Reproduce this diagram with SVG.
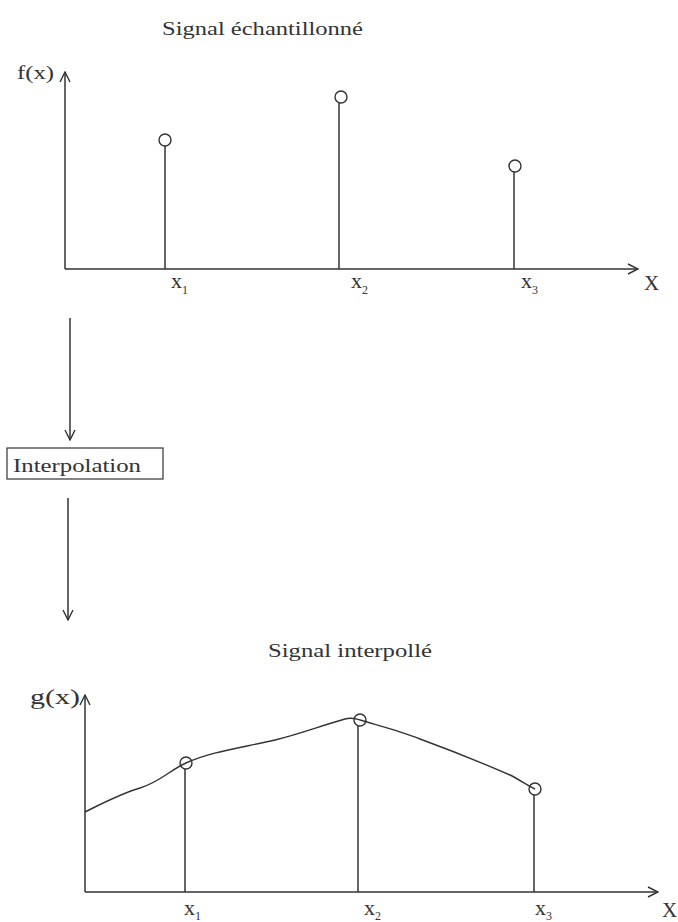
<svg xmlns="http://www.w3.org/2000/svg" width="678" height="922" viewBox="0 0 678 922">
<style>
.ln{stroke:#333;stroke-width:1.5;fill:none}
.cv{stroke:#333;stroke-width:1.4;fill:none}
.pt{stroke:#333;stroke-width:1.4;fill:none}
.t{font-family:"Liberation Serif","Times New Roman",serif;fill:#333}
.xl{font-size:22px}
.sub{font-size:12px}
</style>
<defs>
<marker id="arr" viewBox="0 0 12 12" refX="11" refY="6" markerWidth="12" markerHeight="12" markerUnits="userSpaceOnUse" orient="auto">
<path d="M1,1 L11,6 L1,11" fill="none" stroke="#333" stroke-width="1.4"/>
</marker>
</defs>
<rect width="678" height="922" fill="#fff"/>

<g id="top-chart">
<text class="t" x="162" y="35" font-size="19" textLength="201" lengthAdjust="spacingAndGlyphs">Signal échantillonné</text>
<text class="t" x="17" y="79" font-size="19" textLength="37" lengthAdjust="spacingAndGlyphs">f(x)</text>
<line class="ln" x1="65" y1="269" x2="65" y2="72" marker-end="url(#arr)"/>
<line class="ln" x1="65" y1="269" x2="638" y2="269" marker-end="url(#arr)"/>
<line class="ln" x1="165" y1="146" x2="165" y2="269"/>
<circle class="pt" cx="165" cy="140" r="6"/>
<line class="ln" x1="339" y1="103" x2="339" y2="269"/>
<circle class="pt" cx="341" cy="97" r="6"/>
<line class="ln" x1="514" y1="172" x2="514" y2="269"/>
<circle class="pt" cx="515" cy="166" r="6"/>
<text class="t xl" x="171" y="288">x<tspan class="sub" dy="6">1</tspan></text>
<text class="t xl" x="351" y="288">x<tspan class="sub" dy="6">2</tspan></text>
<text class="t xl" x="521" y="288">x<tspan class="sub" dy="6">3</tspan></text>
<text class="t" x="644" y="290" font-size="21">X</text>
</g>

<g id="interpolation">
<rect x="7" y="448" width="156" height="31" fill="none" stroke="#333" stroke-width="1.2"/>
<text class="t" x="13" y="472" font-size="19" textLength="128" lengthAdjust="spacingAndGlyphs">Interpolation</text>
</g>

<g id="connectors">
<line class="ln" x1="70" y1="318" x2="70" y2="440" marker-end="url(#arr)"/>
<line class="ln" x1="68" y1="498" x2="68" y2="620" marker-end="url(#arr)"/>
</g>

<g id="bottom-chart">
<text class="t" x="268" y="657" font-size="19" textLength="164" lengthAdjust="spacingAndGlyphs">Signal interpollé</text>
<text class="t" x="30" y="704" font-size="22" textLength="50" lengthAdjust="spacingAndGlyphs">g(x)</text>
<line class="ln" x1="85" y1="892" x2="85" y2="695" marker-end="url(#arr)"/>
<line class="ln" x1="85" y1="892" x2="658" y2="892" marker-end="url(#arr)"/>
<path class="cv" d="M85,812 C105,802 120,794 140,788 C160,782 170,770 186,763 C210,752 240,748 275,740 C300,734 320,726 345,719 C352,717 356,719 360,720 C380,726 400,731 420,739 C450,750 480,762 510,775 C520,780 528,786 535,789"/>
<line class="ln" x1="185" y1="769" x2="185" y2="892"/>
<circle class="pt" cx="186" cy="763" r="6"/>
<line class="ln" x1="358" y1="726" x2="358" y2="892"/>
<circle class="pt" cx="360" cy="720" r="6"/>
<line class="ln" x1="534" y1="795" x2="534" y2="892"/>
<circle class="pt" cx="535" cy="789" r="6"/>
<text class="t xl" x="184" y="915">x<tspan class="sub" dy="5">1</tspan></text>
<text class="t xl" x="364" y="915">x<tspan class="sub" dy="5">2</tspan></text>
<text class="t xl" x="535" y="915">x<tspan class="sub" dy="5">3</tspan></text>
<text class="t" x="662" y="917" font-size="21">X</text>
</g>
</svg>
